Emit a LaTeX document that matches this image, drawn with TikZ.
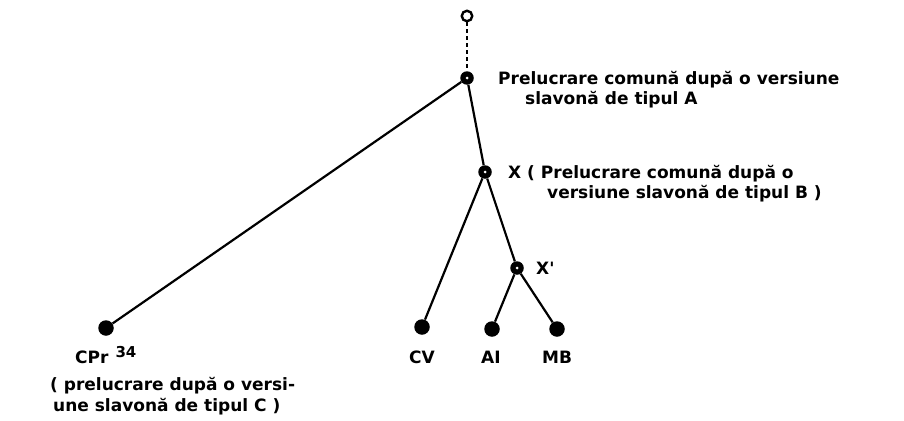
\documentclass[tikz,border=0pt]{standalone}
\usepackage{fontspec}
\setmainfont{DejaVu Sans}
\begin{document}
\begin{tikzpicture}[x=1pt,y=-1pt,
  leaf/.style={circle,fill=black,inner sep=0pt,minimum size=15.5pt},
  inner/.style={circle,fill=black,inner sep=0pt,minimum size=13.5pt,
    path picture={\fill[white] (path picture bounding box.center) circle (1.5pt);}},
  root/.style={circle,draw=black,line width=2.4pt,fill=white,inner sep=0pt,minimum size=10.5pt},
  lbl/.style={anchor=base west,inner sep=0pt,font=\bfseries\fontsize{17}{19}\selectfont},
  edge/.style={line width=2.2pt}]
\useasboundingbox (0,0) rectangle (904,420);
\node[root] (r) at (467,16) {};
\node[inner] (a) at (467,78) {};
\node[inner] (x) at (485,172) {};
\node[inner] (xp) at (517,268) {};
\node[leaf] (cpr) at (106,328) {};
\node[leaf] (cv) at (422,327) {};
\node[leaf] (ai) at (492,329) {};
\node[leaf] (mb) at (557,329) {};
\draw[edge,dash pattern=on 4pt off 3pt] (r) -- (a);
\draw[edge] (a) -- (cpr);
\draw[edge] (a) -- (x);
\draw[edge] (x) -- (cv);
\draw[edge] (x) -- (xp);
\draw[edge] (xp) -- (ai);
\draw[edge] (xp) -- (mb);
\node[lbl] (la1) at (498,84) {Prelucrare comună după o versiune};
\node[lbl] (la2) at (525,104) {slavonă de tipul A};
\node[lbl] (lx1) at (508,178) {X ( Prelucrare comună după o};
\node[lbl] (lx2) at (547,198) {versiune slavonă de tipul  B )};
\node[lbl] (lxp) at (536,274) {X\textquotesingle};
\node[lbl] (lcpr) at (75,363) {CPr\hspace{7pt}\raisebox{6pt}{\fontsize{15}{17}\selectfont 34}};
\node[lbl] (lc1) at (50,390) {( prelucrare după o versi-};
\node[lbl] (lc2) at (53,411) {une slavonă de tipul  C )};
\node[lbl] (lcv) at (409,363) {CV};
\node[lbl] (lai) at (481,363) {AI};
\node[lbl] (lmb) at (542,363) {MB};
\end{tikzpicture}
\end{document}
